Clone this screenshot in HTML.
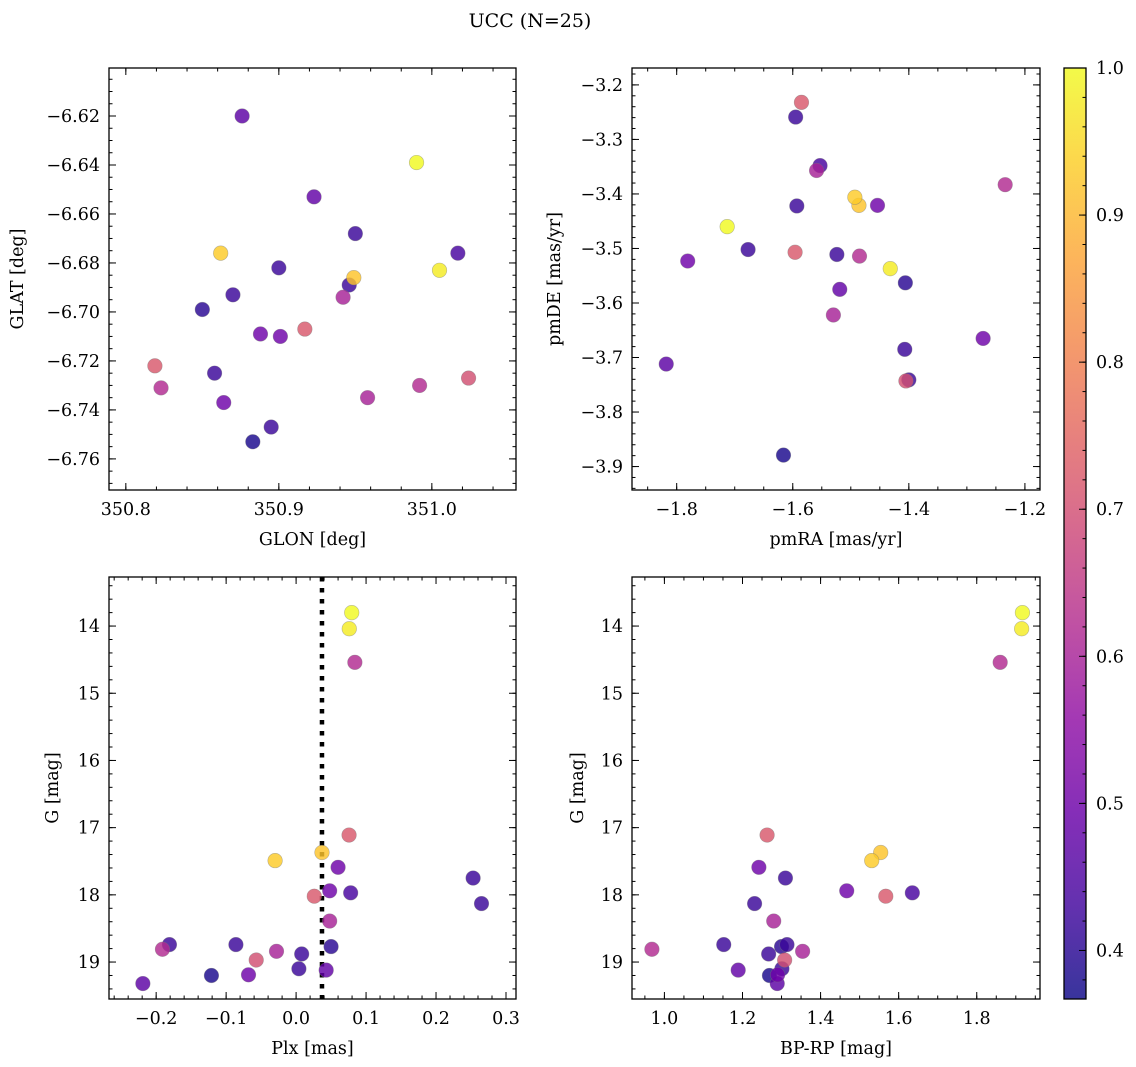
<!DOCTYPE html>
<html><head><meta charset="utf-8"><title>UCC (N=25)</title>
<style>
html,body{margin:0;padding:0;background:#fff;}
svg{display:block;font-family:"DejaVu Serif","Liberation Serif",serif;}
</style></head>
<body>
<svg id="fig" width="1136" height="1067" viewBox="0 0 1136 1067" xmlns="http://www.w3.org/2000/svg">
<text x="530" y="27" font-size="19" text-anchor="middle">UCC (N=25)</text>
</svg>
<script>
const glon = [350.990,351.005,350.823,350.917,350.862,350.949,350.888,350.950,350.901,351.017,350.819,350.900,350.942,350.870,350.992,350.946,350.850,350.958,350.858,351.024,350.895,350.923,350.864,350.883,350.876];
const glat = [-6.639,-6.683,-6.731,-6.707,-6.676,-6.686,-6.709,-6.668,-6.710,-6.676,-6.722,-6.682,-6.694,-6.693,-6.730,-6.689,-6.699,-6.735,-6.725,-6.727,-6.747,-6.653,-6.737,-6.753,-6.620];
const pmra = [-1.713,-1.432,-1.234,-1.585,-1.493,-1.486,-1.454,-1.595,-1.781,-1.553,-1.596,-1.593,-1.559,-1.677,-1.485,-1.524,-1.406,-1.530,-1.407,-1.405,-1.400,-1.519,-1.272,-1.616,-1.818];
const pmde = [-3.460,-3.537,-3.383,-3.232,-3.406,-3.421,-3.421,-3.259,-3.523,-3.348,-3.507,-3.422,-3.357,-3.502,-3.514,-3.511,-3.563,-3.622,-3.685,-3.743,-3.741,-3.575,-3.665,-3.879,-3.712];
const plx = [0.0795,0.076,0.084,0.0757,-0.030,0.037,0.060,0.253,0.048,0.078,0.026,0.265,0.048,-0.181,-0.191,-0.086,0.050,-0.028,0.008,-0.057,0.004,0.043,-0.068,-0.121,-0.219];
const bprp = [1.917,1.915,1.860,1.263,1.531,1.554,1.242,1.310,1.467,1.635,1.567,1.231,1.280,1.152,0.968,1.314,1.300,1.354,1.267,1.308,1.301,1.189,1.290,1.269,1.289];
const gmag = [13.80,14.04,14.54,17.11,17.49,17.37,17.59,17.75,17.94,17.97,18.02,18.13,18.39,18.74,18.81,18.74,18.77,18.84,18.88,18.97,19.10,19.12,19.19,19.20,19.32];
const prob = [1.0,0.98,0.62,0.72,0.93,0.92,0.5,0.42,0.5,0.44,0.72,0.42,0.6,0.42,0.62,0.42,0.4,0.6,0.42,0.7,0.42,0.48,0.5,0.38,0.47];
const plxMedian = [0.037];
const cbTicks = [0.4,0.5,0.6,0.7,0.8,0.9,1.0];

const NS='http://www.w3.org/2000/svg';
const svg=document.getElementById('fig');
function mk(tag,attrs,parent){const e=document.createElementNS(NS,tag);for(const k in attrs)e.setAttribute(k,attrs[k]);(parent||svg).appendChild(e);return e;}
const PL=[[13,8,135],[65,4,157],[106,0,168],[143,13,164],[177,42,144],[204,71,120],[225,100,98],[242,132,75],[252,166,54],[252,206,37],[240,249,33]];
const CMIN=0.367,CMAX=1.0;
const FS=17.5;
function plasma(t){t=Math.max(0,Math.min(1,t));const s=t*10,i=Math.min(9,Math.floor(s)),f=s-i;const a=PL[i],b=PL[i+1];
 return 'rgb('+a.map((v,k)=>Math.round(v+(b[k]-v)*f)).join(',')+')';}
function fmt(v,d){const s=Math.abs(v).toFixed(d);return (v<-1e-9?'\u2212':'')+s;}

function panel(o){
 const g=mk('g',{});
 
 
 const X=v=>o.x0+(v-o.xd[0])/(o.xd[1]-o.xd[0])*(o.x1-o.x0);
 const Y=o.inv?(v=>o.y0+(v-o.yd[0])/(o.yd[1]-o.yd[0])*(o.y1-o.y0)):(v=>o.y1-(v-o.yd[0])/(o.yd[1]-o.yd[0])*(o.y1-o.y0));
 const tk=mk('g',{stroke:'#000','stroke-width':1},g);
 
 
 function ticksX(step,len){const s=Math.ceil(o.xd[0]/step-1e-6);for(let i=s;i*step<=o.xd[1]+1e-9;i++){const x=X(i*step);
  mk('line',{x1:x,x2:x,y1:o.y1,y2:o.y1-len},tk);mk('line',{x1:x,x2:x,y1:o.y0,y2:o.y0+len},tk);}}
 function ticksY(step,len){const lo=Math.min(...o.yd),hi=Math.max(...o.yd);const s=Math.ceil(lo/step-1e-6);for(let i=s;i*step<=hi+1e-9;i++){const y=Y(i*step);
  mk('line',{x1:o.x0,x2:o.x0+len,y1:y,y2:y},tk);mk('line',{x1:o.x1,x2:o.x1-len,y1:y,y2:y},tk);}}
 ticksX(o.xmin,3.5);ticksY(o.ymin,3.5);
 o.xt.forEach(v=>{const x=X(v);mk('line',{x1:x,x2:x,y1:o.y1,y2:o.y1-7},tk);mk('line',{x1:x,x2:x,y1:o.y0,y2:o.y0+7},tk);
  const t=mk('text',{x:x,y:o.y1+25,'font-size':FS,'text-anchor':'middle'},g);t.textContent=fmt(v,o.xdp);
  });
 o.yt.forEach(v=>{const y=Y(v);mk('line',{x1:o.x0,x2:o.x0+7,y1:y,y2:y},tk);mk('line',{x1:o.x1,x2:o.x1-7,y1:y,y2:y},tk);
  const t=mk('text',{x:o.x0-9,y:y+6,'font-size':FS,'text-anchor':'end'},g);t.textContent=fmt(v,o.ydp);
  });
 if(o.vline!==undefined){const l=mk('line',{x1:X(o.vline),x2:X(o.vline),y1:o.y0,y2:o.y1,stroke:'#000','stroke-width':4.5,'stroke-dasharray':'4.5 6.5'},g);
  }
 const idx=o.xs.map((_,i)=>i).sort((a,b)=>prob[a]-prob[b]);
 idx.forEach(i=>{const c=mk('circle',{cx:X(o.xs[i]),cy:Y(o.ys[i]),r:7.3,fill:plasma((prob[i]-CMIN)/(CMAX-CMIN)),'fill-opacity':0.82,stroke:'#777','stroke-opacity':0.5,'stroke-width':0.6},g);
  });
 const f=mk('rect',{x:o.x0,y:o.y0,width:o.x1-o.x0,height:o.y1-o.y0,fill:'none',stroke:'#000','stroke-width':1.3},g);
 
 const xl=mk('text',{x:(o.x0+o.x1)/2,y:o.y1+55,'font-size':FS,'text-anchor':'middle'},g);xl.textContent=o.xlab;
 
 const yl=mk('text',{x:0,y:0,'font-size':FS,'text-anchor':'middle',transform:'translate('+(o.ylx)+','+((o.y0+o.y1)/2)+') rotate(-90)'},g);yl.textContent=o.ylab;
 
}

panel({name:'glon-glat-panel',x0:109,x1:516,y0:68,y1:490,xd:[350.789,351.055],yd:[-6.7727,-6.6004],xt:[350.8,350.9,351.0],yt:[-6.62,-6.64,-6.66,-6.68,-6.70,-6.72,-6.74,-6.76],xdp:1,ydp:2,xmin:0.02,ymin:0.005,xs:glon,ys:glat,xlab:'GLON [deg]',ylab:'GLAT [deg]',ylx:23});
panel({name:'pm-panel',x0:632,x1:1040,y0:68,y1:490,xd:[-1.877,-1.174],yd:[-3.943,-3.169],xt:[-1.8,-1.6,-1.4,-1.2],yt:[-3.2,-3.3,-3.4,-3.5,-3.6,-3.7,-3.8,-3.9],xdp:1,ydp:1,xmin:0.05,ymin:0.02,xs:pmra,ys:pmde,xlab:'pmRA [mas/yr]',ylab:'pmDE [mas/yr]',ylx:560});
panel({name:'plx-g-panel',x0:109,x1:516,y0:577,y1:999,xd:[-0.2674,0.3143],yd:[13.27,19.55],inv:true,xt:[-0.2,-0.1,0.0,0.1,0.2,0.3],yt:[14,15,16,17,18,19],xdp:1,ydp:0,xmin:0.02,ymin:0.2,xs:plx,ys:gmag,xlab:'Plx [mas]',ylab:'G [mag]',ylx:58,vline:plxMedian[0]});
panel({name:'cmd-panel',x0:632,x1:1040,y0:577,y1:999,xd:[0.917,1.962],yd:[13.27,19.55],inv:true,xt:[1.0,1.2,1.4,1.6,1.8],yt:[14,15,16,17,18,19],xdp:1,ydp:0,xmin:0.05,ymin:0.2,xs:bprp,ys:gmag,xlab:'BP-RP [mag]',ylab:'G [mag]',ylx:583});

(function(){
 const x0=1064,x1=1086,y0=68,y1=999;
 const g=mk('g',{});
 
 
 const defs=mk('defs',{},g);
 const lg=mk('linearGradient',{id:'cbg',x1:0,y1:1,x2:0,y2:0},defs);
 for(let k=0;k<=20;k++){mk('stop',{offset:(k/20),'stop-color':plasma(k/20),'stop-opacity':0.82},lg);}
 const r=mk('rect',{x:x0,y:y0,width:x1-x0,height:y1-y0,fill:'url(#cbg)'},g);
 
 const Y=v=>y1-(v-CMIN)/(CMAX-CMIN)*(y1-y0);
 for(let i=Math.ceil(CMIN/0.02);i*0.02<=CMAX+1e-9;i++){const y=Y(i*0.02);mk('line',{x1:x1,x2:x1-3.5,y1:y,y2:y,stroke:'#000','stroke-width':1},g);}
 cbTicks.forEach(v=>{const y=Y(v);mk('line',{x1:x1,x2:x1-7,y1:y,y2:y,stroke:'#000','stroke-width':1},g);
  const t=mk('text',{x:x1+10,y:y+6,'font-size':FS},g);t.textContent=v.toFixed(1);
  });
 mk('rect',{x:x0,y:y0,width:x1-x0,height:y1-y0,fill:'none',stroke:'#000','stroke-width':1.3},g);
})();
</script>
</body></html>
